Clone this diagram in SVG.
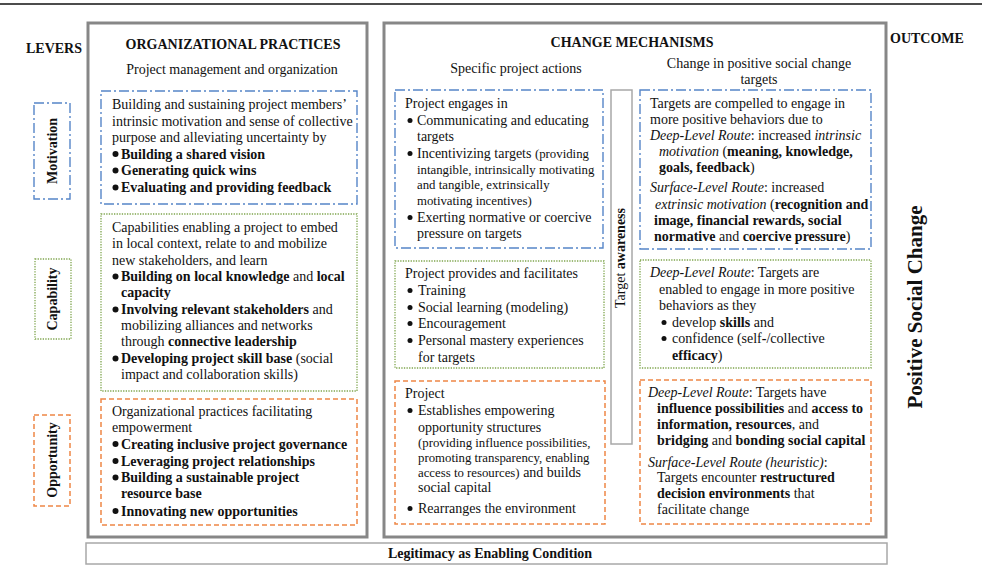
<svg xmlns="http://www.w3.org/2000/svg" width="982" height="579" viewBox="0 0 982 579">
<style>
text{font-family:"Liberation Serif","Times New Roman",serif;font-size:14px;fill:#111}
.b{font-weight:bold}
.i{font-style:italic}
.s{font-size:12.8px}
.t{font-weight:bold;font-size:14px}
.outer{fill:none;stroke:#878787;stroke-width:3}
.blue{fill:none;stroke:#5685c8;stroke-width:1.4;stroke-dasharray:10 3 2 3}
.green{fill:none;stroke:#7fa54e;stroke-width:1.3;stroke-dasharray:1.3 1.3}
.orange{fill:none;stroke:#ee8645;stroke-width:1.5;stroke-dasharray:5 3}
.gray{fill:none;stroke:#a8a8a8;stroke-width:1.5}
.dot{fill:#111}
</style>
<rect width="982" height="579" fill="#fff"/>
<line x1="0" y1="4" x2="982" y2="4" stroke="#111" stroke-width="1.6"/>

<g id="headers">
<text class="t" x="26" y="53">LEVERS</text>
<text class="t" x="233" y="49" text-anchor="middle">ORGANIZATIONAL PRACTICES</text>
<text class="t" x="632" y="47" text-anchor="middle">CHANGE MECHANISMS</text>
<text class="t" x="890" y="43">OUTCOME</text>
<text x="232" y="74" text-anchor="middle">Project management and organization</text>
<text x="516" y="73" text-anchor="middle">Specific project actions</text>
<text x="759" y="68" text-anchor="middle">Change in positive social change</text>
<text x="759" y="84" text-anchor="middle">targets</text>
</g>

<g id="org-practices"><rect class="outer" x="88" y="23" width="279" height="514"/></g>
<g id="change-mechanisms"><rect class="outer" x="384" y="23" width="502" height="514"/></g>

<g id="lever-motivation">
<rect class="blue" x="34" y="103" width="36" height="96"/>
<text class="b" transform="translate(57,151) rotate(-90)" text-anchor="middle">Motivation</text>
</g>
<g id="lever-capability">
<rect class="green" x="35" y="259" width="36" height="80"/>
<text class="b" transform="translate(57,299) rotate(-90)" text-anchor="middle">Capability</text>
</g>
<g id="lever-opportunity">
<rect class="orange" x="34" y="415" width="36" height="91"/>
<text class="b" transform="translate(57,460) rotate(-90)" text-anchor="middle">Opportunity</text>
</g>

<g id="org-motivation">
<rect class="blue" x="101" y="91" width="256" height="113"/>
<text x="112" y="109">Building and sustaining project members’</text>
<text x="112" y="125.5">intrinsic motivation and sense of collective</text>
<text x="112" y="142">purpose and alleviating uncertainty by</text>
<circle class="dot" cx="115.5" cy="154" r="3"/>
<text class="b" x="121" y="158.5">Building a shared vision</text>
<circle class="dot" cx="115.5" cy="170.5" r="3"/>
<text class="b" x="121" y="175">Generating quick wins</text>
<circle class="dot" cx="115.5" cy="187.5" r="3"/>
<text class="b" x="121" y="192">Evaluating and providing feedback</text>
</g>

<g id="org-capability">
<rect class="green" x="101" y="214" width="256" height="177"/>
<text x="112" y="232">Capabilities enabling a project to embed</text>
<text x="112" y="248">in local context, relate to and mobilize</text>
<text x="112" y="264.5">new stakeholders, and learn</text>
<circle class="dot" cx="115.5" cy="276.5" r="3"/>
<text x="121" y="281"><tspan class="b">Building on local knowledge</tspan> and <tspan class="b">local</tspan></text>
<text class="b" x="121" y="297">capacity</text>
<circle class="dot" cx="115.5" cy="309.5" r="3"/>
<text x="121" y="314"><tspan class="b">Involving relevant stakeholders</tspan> and</text>
<text x="121" y="330">mobilizing alliances and networks</text>
<text x="121" y="346">through <tspan class="b">connective leadership</tspan></text>
<circle class="dot" cx="115.5" cy="358.5" r="3"/>
<text x="121" y="363"><tspan class="b">Developing project skill base</tspan> (social</text>
<text x="121" y="379">impact and collaboration skills)</text>
</g>

<g id="org-opportunity">
<rect class="orange" x="101" y="399" width="256" height="126"/>
<text x="112" y="416">Organizational practices facilitating</text>
<text x="112" y="432">empowerment</text>
<circle class="dot" cx="115.5" cy="444" r="3"/>
<text class="b" x="121" y="448.5">Creating inclusive project governance</text>
<circle class="dot" cx="115.5" cy="461" r="3"/>
<text class="b" x="121" y="465.5">Leveraging project relationships</text>
<circle class="dot" cx="115.5" cy="477.5" r="3"/>
<text class="b" x="121" y="482">Building a sustainable project</text>
<text class="b" x="121" y="498">resource base</text>
<circle class="dot" cx="115.5" cy="511" r="3"/>
<text class="b" x="121" y="515.5">Innovating new opportunities</text>
</g>

<g id="action-motivation">
<rect class="blue" x="395" y="90" width="208" height="158"/>
<text x="405" y="108">Project engages in</text>
<circle class="dot" cx="410" cy="120.5" r="2.5"/>
<text x="417" y="125">Communicating and educating</text>
<text x="417" y="141">targets</text>
<circle class="dot" cx="410" cy="153.5" r="2.5"/>
<text x="417" y="158">Incentivizing targets <tspan class="s">(providing</tspan></text>
<text class="s" x="417" y="173.5">intangible, intrinsically motivating</text>
<text class="s" x="417" y="189">and tangible, extrinsically</text>
<text class="s" x="417" y="205">motivating incentives)</text>
<circle class="dot" cx="410" cy="217.5" r="2.5"/>
<text x="417" y="222">Exerting normative or coercive</text>
<text x="417" y="238">pressure on targets</text>
</g>

<g id="action-capability">
<rect class="green" x="395" y="261" width="209" height="107"/>
<text x="405" y="278">Project provides and facilitates</text>
<circle class="dot" cx="410" cy="290.5" r="2.5"/>
<text x="418" y="295">Training</text>
<circle class="dot" cx="410" cy="307.5" r="2.5"/>
<text x="418" y="312">Social learning (modeling)</text>
<circle class="dot" cx="410" cy="323.5" r="2.5"/>
<text x="418" y="328">Encouragement</text>
<circle class="dot" cx="410" cy="340.5" r="2.5"/>
<text x="418" y="345">Personal mastery experiences</text>
<text x="418" y="362">for targets</text>
</g>

<g id="action-opportunity">
<rect class="orange" x="395" y="381" width="210" height="143"/>
<text x="405" y="398">Project</text>
<circle class="dot" cx="410" cy="410.5" r="2.5"/>
<text x="418" y="415">Establishes empowering</text>
<text x="418" y="432">opportunity structures</text>
<text class="s" x="418" y="447">(providing influence possibilities,</text>
<text class="s" x="418" y="462">promoting transparency, enabling</text>
<text x="418" y="477"><tspan class="s">access to resources)</tspan> and builds</text>
<text x="418" y="492">social capital</text>
<circle class="dot" cx="410" cy="508.5" r="2.5"/>
<text x="418" y="513">Rearranges the environment</text>
</g>

<g id="target-awareness">
<rect class="gray" x="611" y="90" width="21" height="354"/>
<text transform="translate(625,258) rotate(-90)" text-anchor="middle">Target <tspan class="b">awareness</tspan></text>
</g>

<g id="target-motivation">
<rect class="blue" x="640" y="90" width="231" height="159"/>
<text x="650" y="108">Targets are compelled to engage in</text>
<text x="650" y="124">more positive behaviors due to</text>
<text x="650" y="140"><tspan class="i">Deep-Level Route</tspan>: increased <tspan class="i">intrinsic</tspan></text>
<text x="659" y="156"><tspan class="i">motivation</tspan> (<tspan class="b">meaning, knowledge,</tspan></text>
<text x="659" y="172"><tspan class="b">goals, feedback</tspan>)</text>
<text x="650" y="192"><tspan class="i">Surface-Level Route</tspan>: increased</text>
<text x="655" y="209"><tspan class="i">extrinsic motivation</tspan> (<tspan class="b">recognition and</tspan></text>
<text class="b" x="654" y="225">image, financial rewards, social</text>
<text x="654" y="241"><tspan class="b">normative</tspan> and <tspan class="b">coercive pressure</tspan>)</text>
</g>

<g id="target-capability">
<rect class="green" x="640" y="260" width="231" height="108"/>
<text x="650" y="277"><tspan class="i">Deep-Level Route</tspan>: Targets are</text>
<text x="659" y="293.5">enabled to engage in more positive</text>
<text x="659" y="310">behaviors as they</text>
<circle class="dot" cx="664" cy="322.5" r="2.5"/>
<text x="672" y="327">develop <tspan class="b">skills</tspan> and</text>
<circle class="dot" cx="664" cy="338.5" r="2.5"/>
<text x="672" y="343">confidence (self<tspan class="b">-</tspan>/collective</text>
<text x="672" y="360"><tspan class="b">efficacy</tspan>)</text>
</g>

<g id="target-opportunity">
<rect class="orange" x="640" y="380" width="231" height="144"/>
<text x="648" y="397"><tspan class="i">Deep-Level Route</tspan>: Targets have</text>
<text x="657" y="413"><tspan class="b">influence possibilities</tspan> and <tspan class="b">access to</tspan></text>
<text x="657" y="429"><tspan class="b">information, resources</tspan>, and</text>
<text x="657" y="445"><tspan class="b">bridging</tspan> and <tspan class="b">bonding social capital</tspan></text>
<text x="648" y="467"><tspan class="i">Surface-Level Route (heuristic)</tspan>:</text>
<text x="657" y="482">Targets encounter <tspan class="b">restructured</tspan></text>
<text x="657" y="498"><tspan class="b">decision environments</tspan> that</text>
<text x="657" y="514">facilitate change</text>
</g>

<g id="outcome">
<text class="b" style="font-size:21px" transform="translate(922,307) rotate(-90)" text-anchor="middle">Positive Social Change</text>
</g>

<g id="legitimacy">
<rect class="gray" x="86" y="543" width="801" height="21"/>
<text class="b" x="490" y="557.5" text-anchor="middle">Legitimacy as Enabling Condition</text>
</g>

<g id="connectors"></g>
</svg>
